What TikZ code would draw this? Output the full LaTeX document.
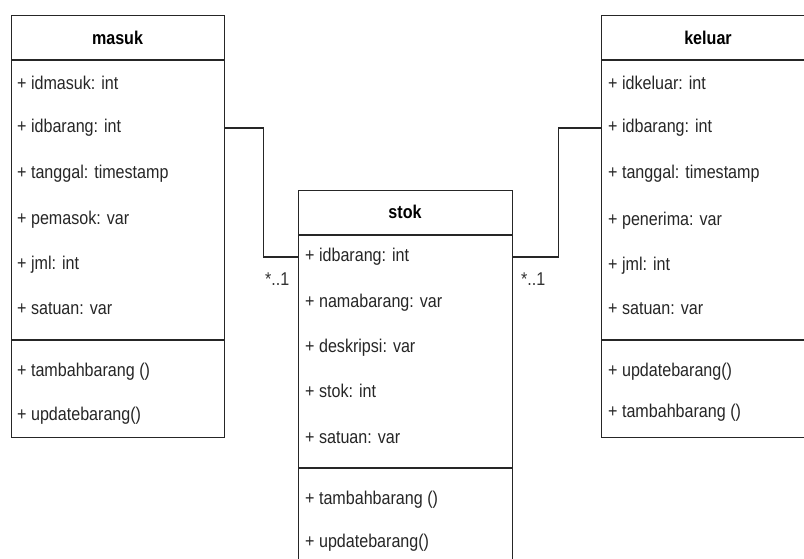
\documentclass[tikz,border=0pt]{standalone}
\usepackage{fontspec}
\setmainfont{Liberation Sans}[FakeStretch=0.87]
\begin{document}
\begin{tikzpicture}[x=1pt,y=-1pt,
  box/.style={draw=black!85, line width=1.3pt, rectangle, inner sep=0pt, anchor=north west},
  sep/.style={draw=black!85, line width=1.3pt},
  attr/.style={anchor=west, inner sep=0pt, text=black!85, font=\fontsize{18.5}{20}\selectfont, text height=13pt, text depth=3.5pt},
  title/.style={anchor=center, inner sep=0pt, text=black, font=\fontsize{18.5}{20}\selectfont\bfseries},
  conn/.style={draw=black!85, line width=1.3pt},
  mult/.style={anchor=west, inner sep=0pt, text=black!80, font=\fontsize{18.5}{20}\selectfont}]
\useasboundingbox (0,0) rectangle (804,558);
\fill[white] (0,0) rectangle (804,558);
\clip (0,0) rectangle (804,558);

% masuk
\node[box, minimum width=213pt, minimum height=422pt] (masuk) at (11,15) {};
\draw[sep] (11,60) -- (224,60);
\draw[sep] (11,340) -- (224,340);
\node[title] (mt) at (117.5,38) {masuk};
\node[attr] (m1) at (17,85) {+ idmasuk: int};
\node[attr] (m2) at (17,128) {+ idbarang: int};
\node[attr] (m3) at (17,174) {+ tanggal: timestamp};
\node[attr] (m4) at (17,220) {+ pemasok: var};
\node[attr] (m5) at (17,265) {+ jml: int};
\node[attr] (m6) at (17,310) {+ satuan: var};
\node[attr] (m7) at (17,372) {+ tambahbarang ()};
\node[attr] (m8) at (17,416) {+ updatebarang()};

% stok
\node[box, minimum width=214pt, minimum height=390pt] (stok) at (298,190) {};
\draw[sep] (298,235) -- (512,235);
\draw[sep] (298,468) -- (512,468);
\node[title] (st) at (405,212) {stok};
\node[attr] (s1) at (305,257) {+ idbarang: int};
\node[attr] (s2) at (305,303) {+ namabarang: var};
\node[attr] (s3) at (305,348) {+ deskripsi: var};
\node[attr] (s4) at (305,393) {+ stok: int};
\node[attr] (s5) at (305,439) {+ satuan: var};
\node[attr] (s6) at (305,500) {+ tambahbarang ()};
\node[attr] (s7) at (305,543) {+ updatebarang()};

% keluar
\node[box, minimum width=220pt, minimum height=422pt] (keluar) at (601,15) {};
\draw[sep] (601,60) -- (821,60);
\draw[sep] (601,340) -- (821,340);
\node[title] (kt) at (708,38) {keluar};
\node[attr] (k1) at (608,85) {+ idkeluar: int};
\node[attr] (k2) at (608,128) {+ idbarang: int};
\node[attr] (k3) at (608,174) {+ tanggal: timestamp};
\node[attr] (k4) at (608,221) {+ penerima: var};
\node[attr] (k5) at (608,266) {+ jml: int};
\node[attr] (k6) at (608,310) {+ satuan: var};
\node[attr] (k7) at (608,372) {+ updatebarang()};
\node[attr] (k8) at (608,413) {+ tambahbarang ()};

% connectors
\draw[conn] (m2.west -| masuk.east) -- ++(38,0) |- (s1.west -| stok.west);
\draw[conn] (s1.west -| stok.east) -- ++(45,0) |- (k2.west -| keluar.west);
\node[mult] (ml) at (265,279) {*..1};
\node[mult] (kl) at (521,279) {*..1};
\end{tikzpicture}
\end{document}
